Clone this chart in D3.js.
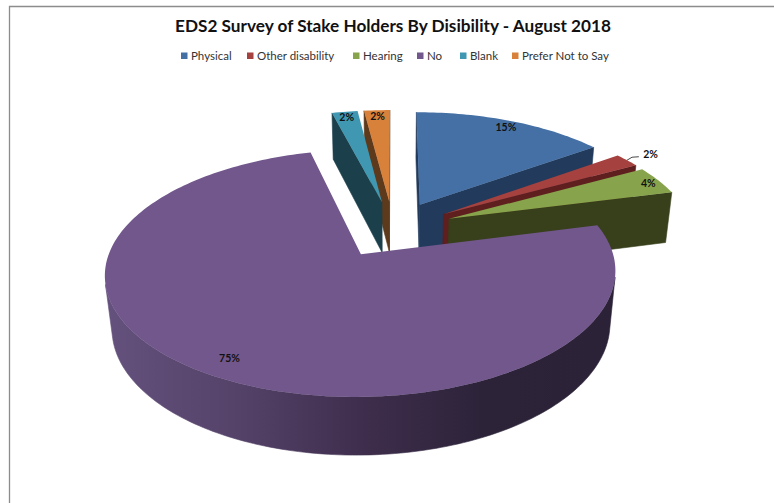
<!DOCTYPE html>
<html>
<head>
<meta charset="utf-8">
<script src="https://cdnjs.cloudflare.com/ajax/libs/d3/7.8.5/d3.min.js"></script>
<style>
html,body{margin:0;padding:0;background:#fff;overflow:hidden}
svg{display:block}
text{font-family:Lato,"Open Sans",sans-serif;fill:#111}
</style>
</head>
<body>
<svg id="chart" width="774" height="503"></svg>
<script>
const categories = ["Physical", "Other disability", "Hearing", "No", "Blank", "Prefer Not to Say"];
const values = [15, 2, 4, 75, 2, 2];
const topColors = ["#4470a6", "#a5413f", "#87a44c", "#71578c", "#3f97b1", "#d8813b"];
const wallColors = ["#223a5b", "#5f1f1e", "#373f1b", "#2b2238", "#1b3f4b", "#5d3a1c"];
const labelReach = [0.93, 1.14, 0.95, 0.875, 0.94, 0.94];
const legendTextX = [191, 257, 363, 427, 470, 522];

const W = 774, H = 503;
const svg = d3.select("#chart");

// Perspective camera for a tilted pie: (px, pv) lie in the pie plane, depth runs 0..1 downward.
const cam = {x0: 393, y0: 229, a: 244, b: 113, p: 0.15, q: 0.024, h: 53, explode: 0.25};
function project(px, pv, depth) {
  const w = 1 - cam.p * pv + cam.q * depth;
  return [cam.x0 + cam.a * px / w, cam.y0 + (cam.b * pv + cam.h * depth) / w];
}

const slices = d3.pie().sort(null).startAngle(0).endAngle(2 * Math.PI)(values).map((d, i) => {
  const mid = (d.startAngle + d.endAngle) / 2;
  return {
    i, start: d.startAngle, end: d.endAngle, mid,
    ox: cam.explode * Math.sin(mid),
    ov: -cam.explode * Math.cos(mid)
  };
});

const onRim = (s, ang, r = 1) => [s.ox + r * Math.sin(ang), s.ov - r * Math.cos(ang)];

// Frame left by the surrounding chart area
svg.append("path")
  .attr("d", `M9.5,${H}V6.5H${W}`)
  .attr("fill", "none").attr("stroke", "#8c8c8c").attr("stroke-width", 1.3);

// Side shading of the large slice, darker toward the right
const rimStops = [[0, "#64517d"], [0.25, "#55436a"], [0.5, "#3f2e4d"], [0.74, "#2c2339"], [1, "#2b2238"]];
const grad = svg.append("defs").append("linearGradient")
  .attr("id", "rimShade").attr("gradientUnits", "userSpaceOnUse")
  .attr("x1", 105).attr("x2", 615).attr("y1", 0).attr("y2", 0);
rimStops.forEach(([o, c]) => grad.append("stop").attr("offset", o).attr("stop-color", c));

function drawSlice(s) {
  const g = svg.append("g").attr("class", "slice");
  const steps = Math.max(4, Math.ceil((s.end - s.start) / (Math.PI / 150)));
  const angles = d3.range(steps + 1).map(k => s.start + (s.end - s.start) * k / steps);
  const rim = angles.map(a => onRim(s, a));
  const apex = [s.ox, s.ov];
  const line = d3.line();
  const top = p => project(p[0], p[1], 0);
  const low = p => project(p[0], p[1], 1);
  const faces = (p, q) => d3.polygonArea([top(p), top(q), low(q), low(p)]) > 0;
  const paint = (pts, col) => g.append("path").attr("d", line(pts) + "Z")
    .attr("fill", col).attr("stroke", col).attr("stroke-width", 0.6);

  // Cut faces, kept only when turned toward the viewer
  const first = rim[0], last = rim[rim.length - 1];
  if (faces(apex, first)) paint([top(apex), top(first), low(first), low(apex)], wallColors[s.i]);
  if (faces(last, apex)) paint([top(last), top(apex), low(apex), low(last)], wallColors[s.i]);

  // Outer wall, one band per visible run along the arc
  const rimColor = s.i === 3 ? "url(#rimShade)" : wallColors[s.i];
  let run = [];
  const flush = () => {
    if (run.length > 1) paint([...run.map(top), ...run.slice().reverse().map(low)], rimColor);
    run = [];
  };
  rim.forEach((p, k) => {
    if (k === rim.length - 1) return;
    if (faces(p, rim[k + 1])) {
      if (!run.length) run.push(p);
      run.push(rim[k + 1]);
    } else flush();
  });
  flush();

  // Top face
  g.append("path").attr("d", line([apex, ...rim].map(top)) + "Z").attr("fill", topColors[s.i]);
}

// Far wedges first, the large near wedge last
[5, 4, 0, 1, 2, 3].forEach(i => drawSlice(slices[i]));

// Percentage labels
const total = d3.sum(values);
slices.forEach(s => {
  const [lx, lv] = onRim(s, s.mid, labelReach[s.i]);
  const [x, y] = project(lx, lv, 0);
  svg.append("text").attr("x", x).attr("y", y + 1).attr("dy", "0.35em")
    .attr("text-anchor", "middle").attr("font-size", 10.5).attr("font-weight", 700)
    .text(d3.format(".0%")(values[s.i] / total));
});

// Leader line for the thin wedge label
{
  const s = slices[1];
  const a = onRim(s, s.mid, 1.0), b = onRim(s, s.mid, 1.07);
  const p0 = project(a[0], a[1], 0), p1 = project(b[0], b[1], 0);
  svg.append("path").attr("d", d3.line()([p0, [p0[0] + 5, p0[1] - 3], p1]))
    .attr("fill", "none").attr("stroke", "#333").attr("stroke-width", 0.9);
}

// Title
svg.append("text").attr("x", 393).attr("y", 32).attr("text-anchor", "middle")
  .attr("font-size", 17.2).attr("font-weight", 700)
  .text("EDS2 Survey of Stake Holders By Disibility - August 2018");

// Legend
categories.forEach((c, i) => {
  svg.append("rect").attr("x", legendTextX[i] - 10).attr("y", 52.5)
    .attr("width", 6.5).attr("height", 6.5).attr("fill", topColors[i]);
  svg.append("text").attr("x", legendTextX[i]).attr("y", 60)
    .attr("font-size", 11.5).style("fill", "#333").text(c);
});
</script>
</body>
</html>
